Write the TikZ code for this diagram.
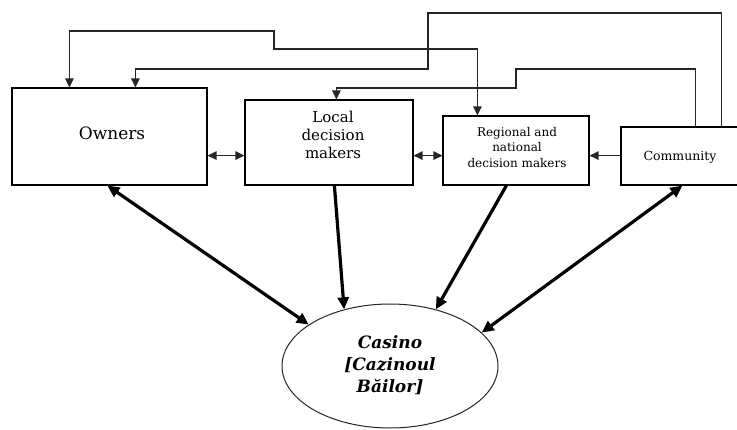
\documentclass[tikz,border=0pt]{standalone}
\usepackage{fontspec}
\setmainfont{DejaVu Serif}
\usetikzlibrary{arrows.meta,calc,shapes.geometric}
\tikzset{
  box/.style={draw=black, line width=1.2pt, rectangle, inner sep=0pt},
  thinline/.style={draw=black!85, line width=1.3pt},
  thinarr/.style={thinline, -{Triangle[length=9pt,width=8.5pt]}},
  thinboth/.style={thinline, {Triangle[length=9pt,width=8.5pt]}-{Triangle[length=9pt,width=8.5pt]}},
  thickarr/.style={draw=black, line width=3.2pt, -{Triangle[length=12pt,width=11pt]}},
  thickboth/.style={draw=black, line width=3.2pt, {Triangle[length=12pt,width=11pt]}-{Triangle[length=12pt,width=11pt]}},
}
\begin{document}
\begin{tikzpicture}[x=1pt,y=-1pt]
\clip (0,0) rectangle (737,430);
\fill[white] (0,0) rectangle (737,430);

% boxes
\node[box, minimum width=195pt, minimum height=97pt] (owners) at (109.5,136.5) {};
\node[font=\fontsize{17}{20}\selectfont] (ownerstxt) at (112,133) {Owners};

\node[box, minimum width=168pt, minimum height=85pt] (local) at (329,142.5) {};
\node[align=center, font=\fontsize{15}{18}\selectfont] (localtxt) at (333,135) {Local\\decision\\makers};

\node[box, minimum width=146pt, minimum height=69pt] (regional) at (516,150.5) {};
\node[align=center, font=\fontsize{12}{15.5}\selectfont] (regionaltxt) at (517,147.5) {Regional and\\national\\decision makers};

\node[box, minimum width=120pt, minimum height=58pt] (community) at (681,156) {};
\node[font=\fontsize{12.5}{15}\selectfont] (communitytxt) at (680,157) {Community};

\node[draw=black!85, line width=1pt, ellipse, minimum width=216pt, minimum height=124pt, inner sep=0pt] (casino) at (390,366) {};
\node[align=center, font=\fontsize{17}{22}\selectfont\bfseries\itshape] (casinotxt) at (390,365) {Casino\\{[}Cazinoul\\Băilor]};

% horizontal thin connectors
\coordinate (o1) at ($(owners.south east)+(0,-30)$);
\draw[thinboth] (o1) -- (o1 -| local.west);
\coordinate (l1) at ($(local.south east)+(0,-30)$);
\draw[thinboth] (l1) -- (l1 -| regional.west);
\coordinate (c1) at ($(community.south west)+(0,-30)$);
\draw[thinarr] (c1) -- (c1 -| regional.east);

% top feedback connectors
\coordinate (cA) at ($(community.north west)+(101,0)$);
\coordinate (oA) at ($(owners.north west)+(124,0)$);
\draw[thinarr] (cA) -- (cA |- 0,13) -| (428,69) -| (oA);

\coordinate (oB) at ($(owners.north west)+(58,0)$);
\coordinate (rB) at ($(regional.north west)+(35,0)$);
\draw[thinboth] (oB) |- (274,31) -- (274,49) -| (rB);

\coordinate (cC) at ($(community.north west)+(75,0)$);
\coordinate (lC) at ($(local.north west)+(92,0)$);
\draw[thinarr] (cC) |- (516,69) -- (516,88) -| (lC);

% thick connectors to casino
\coordinate (oT) at ($(owners.south west)+(96,0)$);
\draw[thickboth] (oT) -- (casino.153);
\coordinate (lT) at ($(local.south west)+(90,0)$);
\draw[thickarr] (lT) -- (casino.129);
\coordinate (rT) at ($(regional.south west)+(64,0)$);
\draw[thickarr] (rT) -- (casino.51);
\coordinate (cT) at ($(community.south west)+(62,0)$);
\draw[thickboth] (cT) -- (casino.20);
\end{tikzpicture}
\end{document}
